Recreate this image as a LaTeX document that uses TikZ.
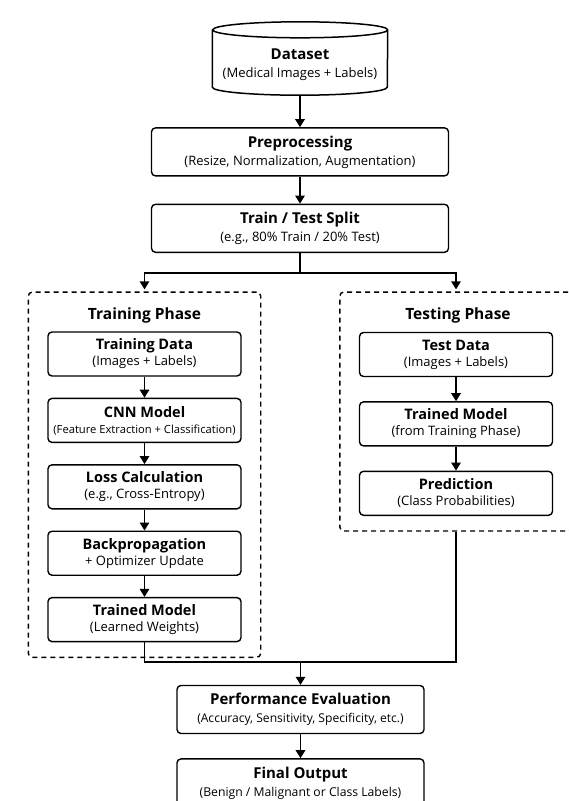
\documentclass[tikz,border=0pt]{standalone}
\usepackage{fontspec}
\setmainfont{Open Sans}
\usepackage{tikz}
\usetikzlibrary{arrows.meta,positioning,fit,calc}
\newcommand{\detail}[1]{{\fontsize{13}{15}\selectfont\mdseries #1}}

\begin{document}
\begin{tikzpicture}[
  x=1pt,y=1pt,
  font=\fontsize{15}{18}\selectfont\bfseries,
  dbase/.style={minimum width=175pt,minimum height=73pt,align=center,inner sep=0pt},
  stage/.style={rounded corners=4pt,draw=black,line width=1.4pt,fill=white,
    minimum width=297pt,minimum height=48pt,align=center,inner sep=2pt},
  substep/.style={rounded corners=4pt,draw=black,line width=1.4pt,fill=white,
    minimum width=193pt,minimum height=44pt,align=center,inner sep=2pt,
    font=\fontsize{14.5}{16}\selectfont\bfseries},
  phase/.style={rounded corners=4pt,draw=black,line width=1.4pt,
    dash pattern=on 5pt off 4pt,inner xsep=19pt,inner ysep=15pt},
  phasetitle/.style={inner sep=0pt,font=\fontsize{15.5}{17}\selectfont\bfseries},
  wire/.style={line width=1.5pt,draw=black},
  arrow/.style={wire,-{Triangle[length=8pt,width=9.5pt]}}
]
\useasboundingbox[fill=white] (0,0) rectangle (569,-801);
\clip (0,0) rectangle (569,-801);

% main chain
\node[dbase] (dataset) at (300,-58.5) {};
\draw[wire,fill=white] ([yshift=-8pt]dataset.north west) -- ([yshift=8pt]dataset.south west)
  arc[start angle=180,end angle=360,x radius=87.5pt,y radius=8pt]
  -- ([yshift=-8pt]dataset.north east)
  arc[start angle=0,end angle=360,x radius=87.5pt,y radius=8pt];
\node[dbase] at ([yshift=-6pt]dataset.center) {Dataset\\\detail{(Medical Images + Labels)}};
\node[stage,below=32pt of dataset] (prep) {Preprocessing\\\detail{(Resize, Normalization, Augmentation)}};
\node[stage,below=27pt of prep] (split) {Train / Test Split\\\detail{(e.g., 80\% Train / 20\% Test)}};
\coordinate (fork) at ($(split.south)+(0,-20)$);

% training phase
\node[phasetitle] (trainlbl) at (144.5,-315) {Training Phase};
\node[substep] (traindata) at (144.5,-354) {Training Data\\\detail{(Images + Labels)}};
\node[substep,below=21pt of traindata] (cnn) {CNN Model\\{\fontsize{11.2}{13}\selectfont\mdseries (Feature Extraction + Classification)}};
\node[substep,below=21pt of cnn] (loss) {Loss Calculation\\\detail{(e.g., Cross-Entropy)}};
\node[substep,below=21pt of loss] (backprop) {Backpropagation\\\detail{+ Optimizer Update}};
\node[substep,below=21pt of backprop] (trained) {Trained Model\\\detail{(Learned Weights)}};
\node[phase,fit=(trainlbl)(traindata)(trained)] (trainbox) {};

% testing phase
\node[phasetitle] (testlbl) at (458,-315) {Testing Phase};
\node[substep] (testdata) at (456,-354.5) {Test Data\\\detail{(Images + Labels)}};
\node[substep,below=24pt of testdata] (usemodel) {Trained Model\\\detail{(from Training Phase)}};
\node[substep,below=24pt of usemodel] (predict) {Prediction\\\detail{(Class Probabilities)}};
\node[phase,fit=(testlbl)(testdata)(predict)] (testbox) {};

% evaluation
\node[stage,minimum width=247pt] (perf) at (300.5,-709.5) {Performance Evaluation\\{\fontsize{12.1}{14}\selectfont\mdseries (Accuracy, Sensitivity, Specificity, etc.)}};
\node[stage,minimum width=247pt,below=24pt of perf] (final) {Final Output\\{\fontsize{12.2}{14}\selectfont\mdseries (Benign / Malignant or Class Labels)}};
\coordinate (join) at ($(perf.north)+(0,23)$);

\draw[arrow] (dataset) -- (prep);
\draw[arrow] (prep) -- (split);
\draw[wire] (split) -- (fork);
\draw[arrow,shorten >=2pt] (fork) -| (trainbox.north);
\draw[arrow,shorten >=2pt] (fork) -| (testbox.north);
\draw[arrow] (traindata) -- (cnn);
\draw[arrow] (cnn) -- (loss);
\draw[arrow] (loss) -- (backprop);
\draw[arrow] (backprop) -- (trained);
\draw[arrow] (testdata) -- (usemodel);
\draw[arrow] (usemodel) -- (predict);
\draw[wire] (trained) |- (join);
\draw[wire] (testbox.south) |- (join);
\draw[arrow] (join) -- (perf);
\draw[arrow] (perf) -- (final);
\end{tikzpicture}
\end{document}
